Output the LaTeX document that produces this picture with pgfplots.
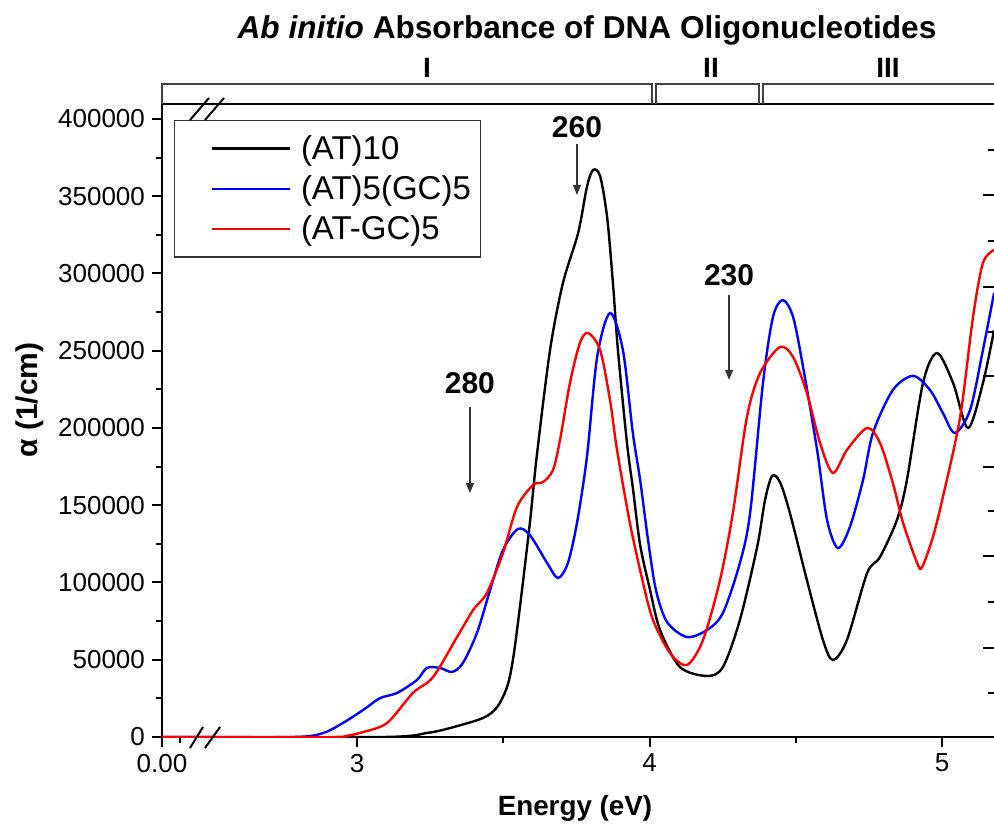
\documentclass[border=0pt]{standalone}
\usepackage{fontspec}
\setmainfont{Liberation Sans}
\usepackage{pgfplots}
\pgfplotsset{compat=1.18}
\usetikzlibrary{arrows.meta}

% (AT)10
\pgfplotstableread{
E alpha
2.3333 0
3.089 0
3.239 2600
3.318 5800
3.431 12300
3.479 19400
3.513 32400
3.533 49800
3.557 84100
3.591 138500
3.615 182500
3.660 250500
3.704 293800
3.756 326200
3.786 356000
3.807 367000
3.831 363100
3.855 336600
3.875 293800
3.892 250500
3.923 190300
3.944 159900
3.968 124300
4.002 95100
4.036 69300
4.104 45300
4.197 39500
4.251 45300
4.309 75700
4.368 123000
4.395 153400
4.419 168900
4.446 165000
4.480 145000
4.538 101600
4.593 62800
4.627 49800
4.675 62800
4.744 106100
4.788 116500
4.846 140500
4.880 166300
4.935 229100
4.983 248500
5.038 229100
5.089 200000
5.140 229100
5.178 263400
}\atten

% (AT)5(GC)5
\pgfplotstableread{
E alpha
2.3333 0
2.781 0
2.884 2600
2.952 9100
3.021 17500
3.079 25200
3.137 28500
3.205 36900
3.239 44700
3.284 44700
3.325 42100
3.362 47900
3.410 67300
3.455 95100
3.499 121000
3.550 134600
3.591 130700
3.650 112600
3.687 102900
3.721 112600
3.752 138500
3.786 181200
3.821 246000
3.865 274400
3.909 250500
3.943 196800
3.968 166300
3.995 127500
4.022 95100
4.060 74400
4.128 64700
4.197 69300
4.251 80300
4.309 112600
4.344 145000
4.388 229100
4.422 271800
4.456 282800
4.491 271800
4.525 239500
4.573 185800
4.607 140500
4.644 122300
4.685 135900
4.730 166300
4.764 196800
4.832 224600
4.901 233700
4.959 224600
5.003 209700
5.044 196800
5.096 211600
5.140 250500
5.178 287400
}\atfivegcfive

% (AT-GC)5
\pgfplotstableread{
E alpha
2.3333 0
2.900 0
2.960 600
3.021 3200
3.103 9100
3.191 28500
3.260 38800
3.342 64700
3.397 82200
3.444 93200
3.499 119100
3.547 148900
3.602 163100
3.636 165000
3.670 172800
3.694 192200
3.728 229100
3.762 255000
3.790 261500
3.831 250500
3.865 218100
3.889 185800
3.933 138500
3.978 99700
4.012 75700
4.070 54400
4.128 46600
4.183 62800
4.241 101600
4.285 145000
4.333 207100
4.378 235600
4.446 252400
4.491 245900
4.538 222600
4.583 190300
4.627 170900
4.675 185800
4.744 200000
4.788 190300
4.832 164400
4.867 138500
4.915 112600
4.932 110000
4.969 129500
5.003 155300
5.062 207100
5.106 271800
5.140 306800
5.178 315200
}\atgcfive

\begin{document}
\begin{tikzpicture}
\begin{axis}[
  at={(0pt,0pt)},anchor=south west,
  scale only axis,width=416pt,height=316.5pt,
  xmin=2.3333,xmax=5.1778,ymin=0,ymax=409700,
  axis x line*=bottom,axis y line*=left,
  axis line style={line width=1pt,-},
  tick align=outside,major tick length=5pt,minor tick length=3pt,
  every tick/.style={line width=1pt,black},
  xtick={2.3333,3,4,5},xticklabels={0.00,3,4,5},
  minor xtick={3.5,4.5},
  ytick={0,50000,100000,150000,200000,250000,300000,350000,400000},
  minor y tick num=1,
  scaled y ticks=false,
  tick label style={font=\fontsize{13}{15}\selectfont},
  yticklabel style={/pgf/number format/.cd,fixed,set thousands separator={},assume math mode=true},
  clip mode=individual,
  legend style={at={(0,1)},anchor=north west,xshift=6pt,yshift=-8pt,
    draw=black!80,line width=0.6pt,inner xsep=0pt,inner ysep=4pt,
    font=\fontsize{16.5}{20}\selectfont,
    nodes={inner ysep=3.3pt,inner xsep=5pt}},
  legend cell align=left,
  legend image code/.code={\path (-18pt,0pt);\draw[#1,line width=1.2pt] (0pt,0pt) -- (39pt,0pt);},
]
\addplot[black,line width=1.2pt,smooth,tension=0.5] table[x=E,y=alpha] {\atten};
\addlegendentry{(AT)10}
\addplot[blue,line width=1.2pt,smooth,tension=0.5] table[x=E,y=alpha] {\atfivegcfive};
\addlegendentry{(AT)5(GC)5}
\addplot[red,line width=1.2pt,smooth,tension=0.5] table[x=E,y=alpha] {\atgcfive};
\addlegendentry{(AT-GC)5}

% wavelength annotations
\node[font=\bfseries\fontsize{15}{18}\selectfont] at (axis cs:3.752,395000) {260};
\draw[line width=0.6pt,black!80,-{Triangle[length=5pt,width=4pt]}] (axis cs:3.752,384000) -- (axis cs:3.752,350800);
\node[font=\bfseries\fontsize{15}{18}\selectfont] at (axis cs:4.272,299000) {230};
\draw[line width=0.6pt,black!80,-{Triangle[length=5pt,width=4pt]}] (axis cs:4.272,286100) -- (axis cs:4.272,231100);
\node[font=\bfseries\fontsize{15}{18}\selectfont] at (axis cs:3.386,229100) {280};
\draw[line width=0.6pt,black!80,-{Triangle[length=5pt,width=4pt]}] (axis cs:3.386,213600) -- (axis cs:3.386,157900);
\end{axis}

% top spine and region brackets
\draw[line width=1pt] (0pt,316.5pt) -- (416pt,316.5pt);
\draw[line width=0.7pt,black!75] (0pt,316.5pt) -- (0pt,326.5pt) -- (245pt,326.5pt) -- (245pt,316.5pt);
\draw[line width=0.7pt,black!75] (247pt,316.5pt) -- (247pt,326.5pt) -- (298.5pt,326.5pt) -- (298.5pt,316.5pt);
\draw[line width=0.7pt,black!75] (300.5pt,316.5pt) -- (300.5pt,326.5pt) -- (416pt,326.5pt);
\node[font=\bfseries\fontsize{14}{16}\selectfont] at (132.5pt,334.5pt) {I};
\node[font=\bfseries\fontsize{14}{16}\selectfont] at (274.5pt,334.5pt) {II};
\node[font=\bfseries\fontsize{14}{16}\selectfont] at (363pt,334.5pt) {III};

% axis break marks
\draw[line width=1pt] (14pt,-5.5pt) -- (20.5pt,5pt) (21.5pt,-5.5pt) -- (29pt,5pt);
\draw[line width=1pt] (14pt,308.5pt) -- (23.5pt,319.5pt) (21.5pt,308.5pt) -- (31pt,319.5pt);
\draw[line width=1pt] (9pt,0pt) -- (9pt,-3pt);

% ticks of the neighbouring panel at the right edge
\foreach \yy in {271,225,180.5,135,90.5,44.5} \draw[line width=1pt] (410.5pt,\yy pt) -- (416pt,\yy pt);
\foreach \yy in {293.5,248,202.5,157.5,113,67.5,22} \draw[line width=1pt] (413pt,\yy pt) -- (416pt,\yy pt);

% titles
\node[font=\bfseries\fontsize{15.8}{18}\selectfont] at (212.5pt,353.5pt) {\textit{Ab initio} Absorbance of DNA Oligonucleotides};
\node[font=\bfseries\fontsize{13.9}{16}\selectfont] at (206.5pt,-35.5pt) {Energy (eV)};
\node[font=\bfseries\fontsize{15}{18}\selectfont,rotate=90] at (-66pt,168.5pt) {α (1/cm)};

\pgfresetboundingbox
\path[use as bounding box] (-81pt,-48.5pt) rectangle (416pt,368.5pt);
\end{tikzpicture}
\end{document}
